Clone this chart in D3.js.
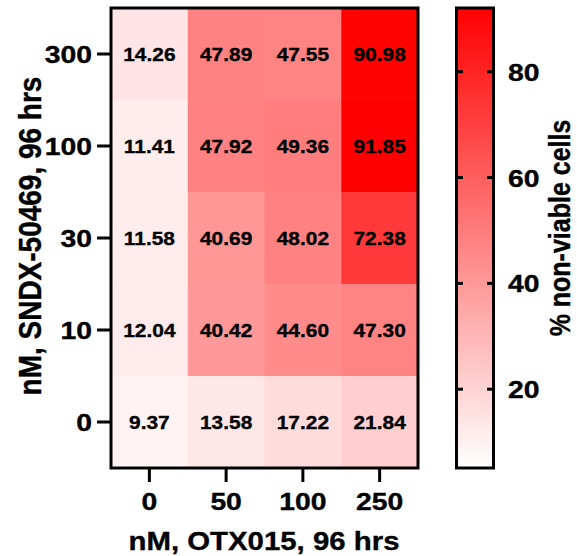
<!DOCTYPE html>
<html>
<head>
<meta charset="utf-8">
<script src="https://cdn.jsdelivr.net/npm/d3@7"></script>
<style>
  html, body { margin: 0; padding: 0; background: #fff; }
  text { font-family: "Liberation Sans", Arial, sans-serif; font-weight: bold; fill: #000; stroke: #000; stroke-width: 0.35px; }
</style>
</head>
<body>
<svg id="chart" width="577" height="556"></svg>
<script>
// ---- data ----
const otx = ["0", "50", "100", "250"];              // x categories (nM OTX015)
const sndx = ["300", "100", "30", "10", "0"];       // y categories top->bottom (nM SNDX-50469)
const row300 = [14.26, 47.89, 47.55, 90.98];
const row100 = [11.41, 47.92, 49.36, 91.85];
const row30  = [11.58, 40.69, 48.02, 72.38];
const row10  = [12.04, 40.42, 44.60, 47.30];
const row0   = [9.37, 13.58, 17.22, 21.84];
const colorTicks = [20, 40, 60, 80];
const colorDomain = [5.3, 91.85];

const rows = [row300, row100, row30, row10, row0];
const cells = [];
sndx.forEach((s, i) => otx.forEach((o, j) => cells.push({ x: o, y: s, v: rows[i][j] })));

const svg = d3.select("#chart");
const SX = 1.18; // horizontal stretch of the reference's axis text
const SC = 1.13; // stretch of cell text

const x = d3.scaleBand().domain(otx).range([111, 418]);
const y = d3.scaleBand().domain(sndx).range([8, 468]);
const color = d3.scaleLinear().domain(colorDomain).range(["#ffffff", "#ff0000"]).interpolate(d3.interpolateRgb);

// cells
svg.append("g").selectAll("rect").data(cells).join("rect")
  .attr("x", d => x(d.x)).attr("y", d => y(d.y))
  .attr("width", x.bandwidth() + 0.5).attr("height", y.bandwidth() + 0.5)
  .attr("fill", d => color(d.v));

// cell labels
svg.append("g").selectAll("text").data(cells).join("text")
  .attr("transform", d => `translate(${x(d.x) + x.bandwidth() / 2},${y(d.y) + y.bandwidth() / 2 + 7}) scale(${SC},1)`)
  .attr("text-anchor", "middle")
  .style("font-size", "18.5px")
  .text(d => d.v.toFixed(2));

// frame
svg.append("rect").attr("x", 111).attr("y", 8).attr("width", 307).attr("height", 460)
  .attr("fill", "none").attr("stroke", "#000").attr("stroke-width", 3);

// y axis
const yAxis = d3.axisLeft(y).tickSize(14).tickPadding(4);
const gy = svg.append("g").attr("transform", "translate(111,0)").call(yAxis);
gy.select(".domain").remove();
gy.selectAll(".tick line").attr("stroke", "#000").attr("stroke-width", 3);
gy.selectAll(".tick text")
  .attr("x", null).attr("dy", null)
  .attr("transform", `translate(-19,9) scale(${SX},1)`)
  .style("font-size", "24px").style("font-family", null);

// x axis
const xAxis = d3.axisBottom(x).tickSize(14).tickPadding(4);
const gx = svg.append("g").attr("transform", "translate(0,468)").call(xAxis);
gx.select(".domain").remove();
gx.selectAll(".tick line").attr("stroke", "#000").attr("stroke-width", 3);
gx.selectAll(".tick text")
  .attr("y", null).attr("dy", null)
  .attr("transform", `translate(0,42) scale(${SX},1)`)
  .style("font-size", "24px").style("font-family", null);

// axis titles
svg.append("text")
  .attr("transform", `translate(264,550) scale(1.13,1)`)
  .attr("text-anchor", "middle").style("font-size", "26px")
  .text("nM, OTX015, 96 hrs");
svg.append("text")
  .attr("transform", `translate(41,236) scale(1.15,1) rotate(-90)`)
  .attr("text-anchor", "middle").style("font-size", "28px")
  .text("nM, SNDX-50469, 96 hrs");

// colour bar
const cb = d3.scaleLinear().domain(colorDomain).range([467, 9]);
const defs = svg.append("defs");
const grad = defs.append("linearGradient").attr("id", "cbgrad")
  .attr("x1", 0).attr("y1", 1).attr("x2", 0).attr("y2", 0);
grad.selectAll("stop").data(d3.range(0, 1.0001, 0.1)).join("stop")
  .attr("offset", t => t)
  .attr("stop-color", t => color(colorDomain[0] + t * (colorDomain[1] - colorDomain[0])));
svg.append("rect").attr("x", 456.5).attr("y", 8).attr("width", 37).attr("height", 460)
  .attr("fill", "url(#cbgrad)").attr("stroke", "#000").attr("stroke-width", 3);
const cbt = svg.append("g");
cbt.selectAll("line.l").data(colorTicks).join("line").attr("class", "l")
  .attr("x1", 456.5).attr("x2", 463).attr("y1", d => cb(d)).attr("y2", d => cb(d))
  .attr("stroke", "#000").attr("stroke-width", 3);
cbt.selectAll("line.r").data(colorTicks).join("line").attr("class", "r")
  .attr("x1", 487).attr("x2", 493.5).attr("y1", d => cb(d)).attr("y2", d => cb(d))
  .attr("stroke", "#000").attr("stroke-width", 3);
cbt.selectAll("text").data(colorTicks).join("text")
  .attr("transform", d => `translate(508,${cb(d) + 9}) scale(${SX},1)`)
  .style("font-size", "24px")
  .text(d => d);
svg.append("text")
  .attr("transform", `translate(570,228) scale(1.15,1) rotate(-90)`)
  .attr("text-anchor", "middle").style("font-size", "25px")
  .text("% non-viable cells");
</script>
</body>
</html>
